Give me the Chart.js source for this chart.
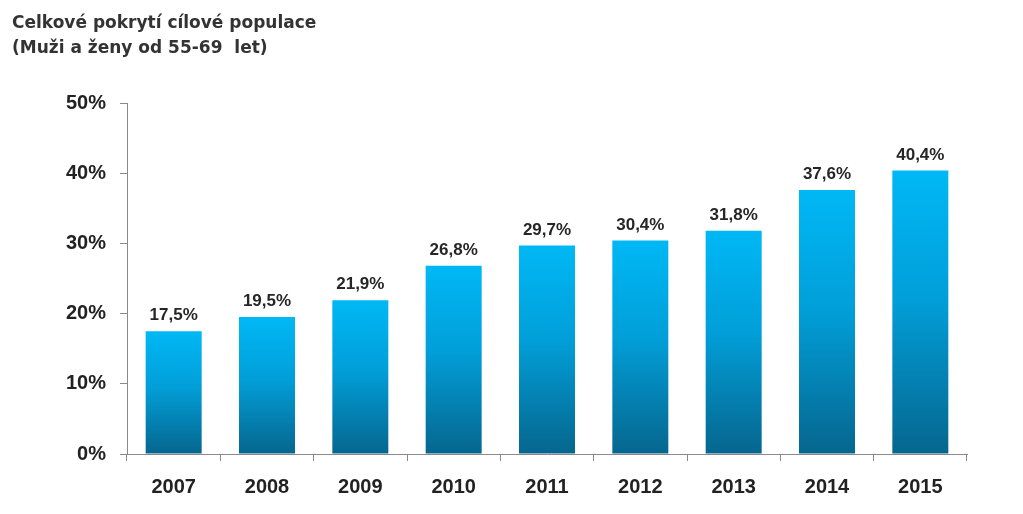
<!DOCTYPE html>
<html>
<head>
<meta charset="utf-8">
<script src="https://cdn.jsdelivr.net/npm/chart.js@4/dist/chart.umd.min.js"></script>
<style>
    html, body { margin: 0; padding: 0; background: #ffffff; }
    #wrap { width: 1023px; height: 514px; position: relative; }
</style>
</head>
<body>
<div id="wrap"><canvas id="chart" width="1023" height="514"></canvas></div>
<script>
const years = ["2007", "2008", "2009", "2010", "2011", "2012", "2013", "2014", "2015"];
const coverage = [17.5, 19.5, 21.9, 26.8, 29.7, 30.4, 31.8, 37.6, 40.4];
const titleLines = ["Celkové pokrytí cílové populace", "(Muži a ženy od 55-69  let)"];

function formatPct(v) {
    return v.toFixed(1).replace(".", ",") + "%";
}

// each bar has its own gradient: bright at its top, dark at the baseline
function barGradient(context) {
    const chart = context.chart;
    const area = chart.chartArea;
    const y = chart.scales.y;
    if (!area || !y || context.raw === undefined) return "#00a8e6";
    const top = y.getPixelForValue(context.raw);
    const g = chart.ctx.createLinearGradient(0, top, 0, area.bottom);
    g.addColorStop(0, "#00b8f5");
    g.addColorStop(0.45, "#019fd9");
    g.addColorStop(1, "#06668e");
    return g;
}

const titlePlugin = {
    id: "titleText",
    afterDraw(chart) {
        const ctx = chart.ctx;
        ctx.save();
        ctx.fillStyle = "#333333";
        ctx.font = "bold 17px 'DejaVu Sans'";
        ctx.textAlign = "left";
        ctx.textBaseline = "alphabetic";
        ctx.fillText(titleLines[0], 12, 28);
        ctx.fillText(titleLines[1], 12, 53);
        ctx.restore();
    }
};

const valueLabels = {
    id: "valueLabels",
    afterDatasetsDraw(chart) {
        const ctx = chart.ctx;
        const meta = chart.getDatasetMeta(0);
        ctx.save();
        ctx.fillStyle = "#262626";
        ctx.font = "bold 17px 'Liberation Sans'";
        ctx.textAlign = "center";
        ctx.textBaseline = "bottom";
        meta.data.forEach((bar, i) => {
            ctx.fillText(formatPct(coverage[i]), bar.x, bar.y - 7);
        });
        ctx.restore();
    }
};

new Chart(document.getElementById("chart"), {
    type: "bar",
    data: {
        labels: years,
        datasets: [{
            data: coverage,
            backgroundColor: barGradient,
            categoryPercentage: 0.6,
            barPercentage: 1.0
        }]
    },
    options: {
        responsive: false,
        maintainAspectRatio: false,
        animation: false,
        layout: { padding: { top: 103, right: 56, left: 0, bottom: 0 } },
        plugins: {
            legend: { display: false },
            tooltip: { enabled: false },
            title: { display: false }
        },
        scales: {
            y: {
                min: 0,
                max: 50,
                afterFit(scale) { scale.width = 127; },
                ticks: {
                    stepSize: 10,
                    padding: 14,
                    color: "#222222",
                    font: { family: "'Liberation Sans'", size: 20, weight: "bold" },
                    callback: v => v + "%"
                },
                grid: { display: true, drawOnChartArea: false, drawTicks: true, tickLength: 7, color: "#8a8a8a" },
                border: { display: true, color: "#8a8a8a", width: 1 }
            },
            x: {
                afterFit(scale) { scale.height = 60; },
                ticks: {
                    padding: 14,
                    color: "#222222",
                    font: { family: "'Liberation Sans'", size: 20, weight: "bold" }
                },
                grid: { display: true, offset: true, drawOnChartArea: false, drawTicks: true, tickLength: 7, color: "#8a8a8a" },
                border: { display: true, color: "#8a8a8a", width: 1 }
            }
        }
    },
    plugins: [titlePlugin, valueLabels]
});
</script>
</body>
</html>
